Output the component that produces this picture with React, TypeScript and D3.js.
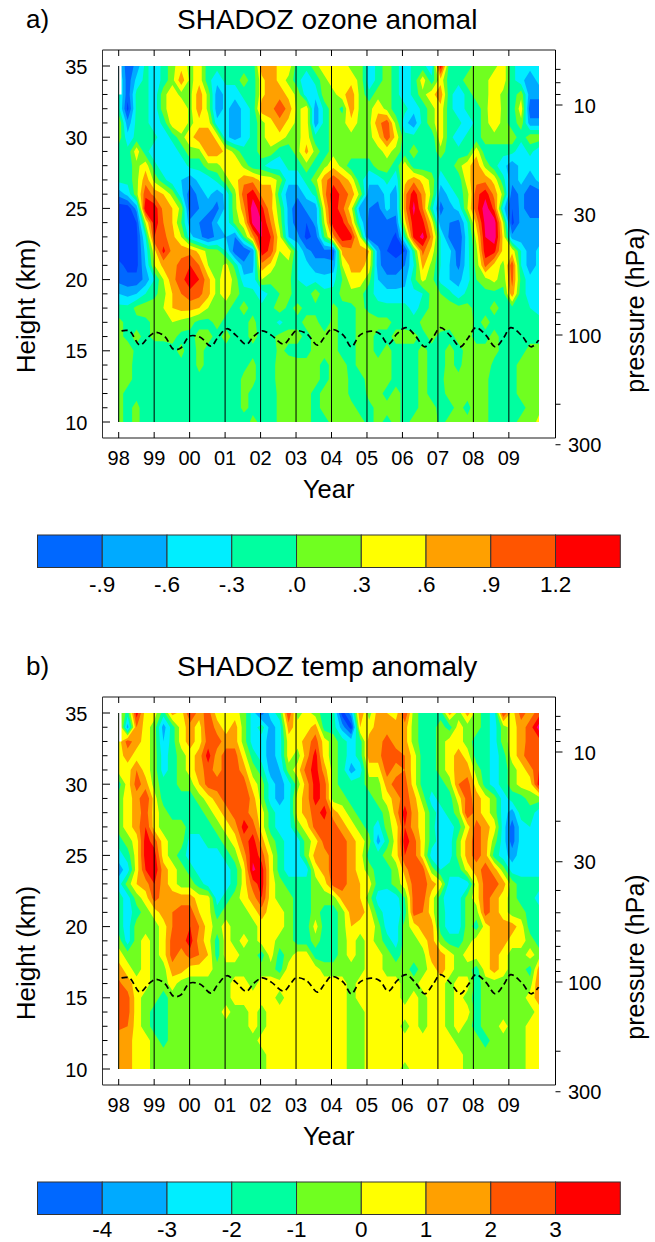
/** App.tsx - SHADOZ ozone and temperature anomaly height/time sections */
import React from "react";
import * as d3 from "d3";

// grid: rows run from 35 km down to 10 km, 48 columns over 1998.0 - 2009.85
const heights = d3.range(35, 9, -1);
const gridYears = d3.range(48).map((i) => 1998 + (i * 11.85) / 47);

// ozone anomaly, in 0.1 units
const ozoneRows = [
  [-5,-11,-8,-2,-5,-2,2,5,2,5,-2,-2,-2,-2,-2,-2,8,8,5,5,-2,-2,2,5,5,5,2,2,-5,-2,2,-2,-5,-2,-2,-5,14,-2,-2,-2,2,2,2,5,-2,-5,-5,-5],
  [-2,-11,-5,-2,-5,-2,2,8,2,5,-2,-5,-2,-2,2,-2,5,8,5,2,-2,-5,-2,2,5,5,5,2,-5,-2,2,-2,-5,-2,5,-2,5,-2,-2,2,2,2,5,5,-2,-5,-8,-5],
  [-2,-11,-2,-2,-5,2,5,2,2,8,2,-8,-5,-5,-2,-2,5,8,8,5,2,-5,-5,2,2,5,8,2,-2,2,2,-2,-5,-2,2,5,8,-2,-5,-2,2,2,5,2,-2,2,-8,-8],
  [-2,-13,-2,-2,-5,2,5,6,2,8,2,-8,-5,-8,-5,-2,8,8,11,8,2,5,-8,-2,2,-1,8,2,2,5,2,-2,-2,-5,-2,2,5,-2,-5,-2,-2,2,6,2,-2,5,-11,-11],
  [3,-8,-2,-2,-5,-2,5,6,2,5,5,-5,-5,-8,-5,-2,2,5,8,5,2,5,-8,-2,2,2,5,2,2,8,11,2,-5,-8,-2,2,5,-2,-2,-5,-2,2,5,2,-2,2,-8,-8],
  [2,-5,-2,-2,-2,-5,-2,2,5,8,8,5,-5,-8,-5,-2,2,5,5,2,2,5,-2,-2,2,2,2,2,2,5,11,5,-2,-2,-2,-2,5,-2,-5,-2,-2,2,2,2,2,-2,2,2],
  [-2,-2,5,-2,-5,-5,-5,-2,2,2,8,8,5,2,-2,-2,2,2,-2,-2,2,7,2,-2,2,2,2,2,2,2,4,2,-2,2,-2,-2,2,-2,-2,-2,5,-2,-2,-2,-2,-5,-2,-5],
  [-2,-2,2,5,-2,-5,-5,-5,-2,-2,2,2,5,6,2,-2,-2,-5,-5,-2,-2,2,-2,2,5,2,-2,-2,-2,2,2,-2,5,-2,-2,-2,-2,-2,2,5,8,2,-2,-5,-8,-5,-5,-5],
  [-2,-2,2,8,2,-2,-5,-6,-8,-5,-5,-2,2,5,8,8,5,5,2,-5,-5,-2,2,8,11,8,5,-2,-5,-5,-2,-5,5,8,5,2,-5,-2,-2,5,8,8,5,-2,-8,-5,-8,-5],
  [-8,-5,2,11,8,6,2,-5,-11,-8,-5,-8,-5,2,11,14,8,8,-2,-8,-8,-5,-2,8,14,11,8,2,-8,-8,-5,-8,8,14,8,2,-8,-5,-2,2,11,14,8,2,-11,-8,-11,-11],
  [-14,-14,-8,15,14,8,6,2,-12,-9,-8,-10,-5,2,8,17,13,7,1,-7,-12,-8,-8,5,14,10,4,-8,-9,-10,-5,-8,8,16,9,-2,-10,-7,-5,3,11,17,11,-5,-12,-8,-11,-11],
  [-14,-14,-12,3,14,9,6,0,-8,-9,-11,-6,-5,1,5,16,15,9,2,-7,-11,-12,-8,3,14,13,7,-4,-10,-10,-10,-10,5,14,13,5,-8,-9,-10,-3,7,16,17,3,-13,-8,-8,-8],
  [-14,-14,-13,-3,12,10,7,3,-5,-8,-11,-8,-6,-9,0,8,15,12,4,-6,-8,-13,-11,0,8,14,13,3,-12,-11,-10,-13,-2,13,16,8,-3,-10,-12,-4,4,15,17,5,-8,-8,-8,-8],
  [-14,-14,-13,-5,5,13,8,8,8,5,2,1,-3,-11,-12,-8,14,11,3,5,-3,-8,-10,-10,-11,7,8,8,6,-8,-12,-13,-12,-1,10,5,-3,-5,-11,-4,2,14,13,5,5,-3,-8,-5],
  [-11,-13,-13,-6,3,7,8,10,12,9,3,1,4,-1,-8,-7,8,5,1,2,-3,-5,-8,-8,-8,3,7,7,5,-8,-11,-11,-9,-3,7,2,-3,-6,-10,-4,1,10,5,2,11,-3,-8,-5],
  [-10,-11,-11,-8,-3,3,8,11,14,12,7,2,5,2,-5,-5,3,1,0,1,-3,-4,-4,-5,-4,0,5,5,1,-6,-8,-8,-7,-1,4,1,-4,-6,-7,-4,0,2,4,1,10,-1,-5,-5],
  [-6,-7,-6,-3,-1,2,6,9,11,10,7,2,5,1,-1,-2,-5,-2,0,1,-2,-2,2,-2,-2,1,2,1,-2,-4,-5,-5,-5,-4,-3,1,0,-2,-5,-2,-2,-1,-1,-1,8,-2,-4,-5],
  [-2,-2,1,2,2,3,6,7,7,6,3,1,1,-1,1,-1,-2,-1,2,-1,1,-1,-1,-3,1,-1,-1,1,-1,-2,-2,-2,-2,-4,-2,1,2,2,1,1,-1,-1,1,-1,-1,-2,-3,-4],
  [1,-1,-1,-1,1,1,3,2,1,-1,-1,1,-1,-1,-1,1,-2,-1,-4,-1,-1,1,1,-2,1,-1,-1,1,2,1,1,-1,-1,-2,1,2,2,1,1,2,-1,1,-1,-1,-1,-1,-1,-2],
  [1,-1,1,-1,1,1,1,-1,-1,1,1,-1,1,-1,-1,1,-1,-1,1,1,1,-1,1,1,1,-1,-1,1,1,-1,-1,1,1,1,-1,1,-1,-1,1,1,-1,-1,1,-1,-1,-1,-1,-1],
  [1,2,-1,-2,-2,-2,-1,1,-2,1,-1,-1,-1,-1,-2,-1,-1,-2,1,-1,-1,-1,1,1,1,-1,-1,1,1,-1,1,-1,-1,-1,1,-1,-1,1,-1,1,1,1,1,-1,-1,-1,1,1],
  [1,1,-1,-2,-2,-2,-2,-1,-2,1,-1,-2,-2,-2,-1,1,-2,-1,1,2,1,1,1,-1,1,1,-1,1,1,1,1,-1,-1,-1,1,-1,-1,1,-1,2,1,2,-1,-1,-1,1,1,1],
  [1,1,-1,-2,-2,-2,-2,-2,-2,-1,-1,-2,-2,-2,1,1,-2,-1,1,2,2,1,1,-1,1,2,-1,-1,1,1,1,-1,-1,-1,1,-1,-1,2,1,2,2,1,-2,-1,-1,1,1,1],
  [1,-1,-1,-2,-2,-2,-2,-2,-2,-1,-2,-2,-2,-2,1,-1,-2,-2,1,2,2,1,-1,1,1,2,-1,-2,1,1,-1,1,-1,-1,1,-1,-1,1,2,1,2,1,-2,-1,-1,1,2,2],
  [1,-1,1,-2,-2,-2,-2,-2,-2,-2,-1,-2,-2,-2,1,-1,-1,-2,1,2,2,1,-1,1,2,2,1,-1,-1,1,1,1,-1,-1,1,1,-1,-1,1,-1,2,1,-2,-2,-1,-1,1,2],
  [1,-1,1,-2,-2,-1,-2,-2,-2,-2,-2,-2,-2,-1,-2,1,-1,-2,1,2,1,1,-1,-1,1,2,2,1,-1,1,-1,1,-1,1,1,2,-1,1,1,1,1,1,-2,-1,-1,1,1,4],
];

// temperature anomaly, in 0.1 K
const tempRows = [
  [5,-15,35,5,5,-15,15,5,30,15,25,5,5,5,-5,-25,-45,-25,-15,30,-5,5,-5,-15,-15,-55,-35,20,-5,15,10,5,30,-5,-15,-15,-15,15,-5,15,-5,-15,-25,30,5,25,15,25],
  [15,-35,20,5,-5,-35,-15,5,15,5,30,15,5,15,-5,-25,-15,-35,-25,15,5,5,15,-15,-15,-35,-55,10,5,15,15,15,15,-5,-15,-15,-5,-15,5,-5,-5,-15,-25,-5,5,15,25,45],
  [5,25,15,5,-5,-30,-15,5,15,5,25,25,15,15,-5,-25,-25,-35,-25,5,5,15,25,5,-5,-15,-25,-15,15,15,25,15,15,-5,-15,-15,-5,5,5,-5,-15,-15,-25,-5,5,15,25,25],
  [5,15,5,5,-5,-25,-15,-5,5,15,35,15,25,25,5,-15,-25,-35,-25,5,-5,15,35,5,-5,-15,-25,-15,15,15,30,25,20,5,-15,-15,-5,5,15,5,-15,-15,-25,-15,5,15,30,25],
  [5,5,20,5,-5,-25,-15,-5,5,15,25,15,25,25,15,-5,-15,-35,-30,-5,5,25,35,15,-5,-15,-35,-25,5,5,25,15,20,5,-15,-15,-5,5,15,15,-5,-15,-25,-15,-5,5,15,30],
  [-15,5,25,15,-5,-15,-15,-5,-5,10,25,25,25,25,25,5,-5,-25,-35,-25,-5,15,35,25,-5,-15,-15,-15,-5,-5,15,25,25,5,-15,-15,-15,-5,20,25,5,-15,-25,-15,-5,5,5,35],
  [-5,5,15,30,5,-15,-15,-15,-15,-5,5,15,25,25,30,15,-5,-25,-35,-25,5,15,35,25,-5,-5,-15,-15,-15,-5,5,15,25,15,-5,-25,-15,-15,5,25,15,5,-5,-25,-15,-15,-5,-5],
  [-5,5,15,25,5,-5,-15,-15,-15,-15,-5,5,15,25,25,15,5,-15,-25,-25,5,15,25,35,15,5,-5,-15,-15,-15,-5,15,35,15,5,-15,-25,-15,-5,30,15,5,-5,-25,-35,-15,-15,-25],
  [-5,5,15,30,5,-5,-5,-5,-15,-15,-15,-5,5,15,35,25,5,-15,-25,-25,-5,5,25,25,25,15,5,-5,-15,-25,-5,5,30,15,5,-15,-30,-25,-15,5,25,15,5,-25,-45,-25,-20,-25],
  [-15,-5,5,35,25,5,-5,-5,-25,-25,-15,-15,-5,5,25,35,15,-5,-15,-25,-25,-5,5,25,25,25,15,5,-5,-35,-15,5,35,25,5,-15,-25,-25,-5,15,25,15,-5,-25,-45,-25,-25,-25],
  [-25,-15,5,35,35,5,-5,-15,-25,-25,-25,-25,-15,-5,15,38,25,5,-15,-25,-25,-5,15,15,25,25,15,5,-15,-15,-5,5,30,25,5,-25,-25,-25,-5,15,25,15,-15,-25,-35,-25,-25,-25],
  [-35,-25,5,30,38,15,5,-5,-15,-25,-25,-25,-25,-15,5,42,35,5,-15,-25,-25,-25,5,15,25,25,15,5,-5,-15,-15,-5,15,30,25,-5,-20,-15,-15,5,15,25,15,-5,-25,-25,-25,-25],
  [-25,-5,10,15,30,15,5,-5,-5,-15,-25,-25,-25,-15,5,25,35,5,-5,-15,-15,-15,-5,5,25,25,15,10,5,-15,-15,-5,5,25,25,15,5,-25,-25,-25,5,25,25,15,-5,-15,-15,-15],
  [-15,-25,-5,5,25,15,15,15,15,5,5,-25,-15,-5,5,15,30,5,-5,-5,-15,-15,-5,-5,-5,15,15,10,-5,-25,-30,-25,-10,25,25,5,-15,-30,-25,-5,5,25,15,5,-5,-15,-15,-25],
  [-15,-25,-15,-5,5,15,20,25,25,10,5,-15,-5,-5,-5,5,15,5,5,-5,-15,-15,-5,-15,-15,-5,15,15,5,-15,-25,-25,-15,25,20,5,-15,-25,-25,-5,-5,25,15,5,-5,-5,-15,-15],
  [-15,-25,-5,-5,-5,5,20,25,30,20,5,-5,5,-5,-5,-5,5,5,5,-5,-15,-15,5,-15,-15,-5,10,5,10,-5,-25,-25,-5,5,15,15,-15,-25,-25,-5,-15,5,15,15,15,5,-15,-15],
  [-5,-25,-5,5,-5,5,25,25,35,15,5,-15,5,-5,5,-5,5,5,-5,-5,-15,-15,-5,-15,-15,-5,5,-5,5,-5,-15,-25,-5,-5,5,15,-5,-15,-15,-5,5,5,15,15,5,5,-5,-15],
  [5,-5,-5,5,-5,5,25,15,25,20,10,-15,5,5,-5,-5,-15,5,-15,-5,5,5,-15,-15,-15,-5,5,-5,5,5,-5,-15,-5,-5,-5,15,15,5,-5,5,5,5,15,5,-5,-5,5,-5],
  [15,5,-5,5,-5,-5,15,15,5,5,5,-5,-5,-5,-5,-5,-5,-5,-15,5,5,5,5,-5,-5,-5,-5,-5,5,5,-5,-5,-5,-15,-5,5,15,5,-5,-5,-15,5,15,5,-5,-5,-15,15],
  [22,15,5,5,-5,-5,5,-5,-5,-5,-5,-5,-5,5,5,-5,5,5,5,5,5,5,5,5,5,5,-5,5,5,5,5,5,-5,-5,5,5,5,-5,5,5,-15,-5,-5,-5,-5,-5,-5,20],
  [25,24,5,-5,-5,-15,-5,-5,-5,-5,-5,-5,-5,5,5,5,5,5,-5,5,5,5,5,5,5,5,-5,5,5,5,5,5,-5,5,-5,5,5,-5,5,-5,-15,-5,-5,-5,-5,-5,5,15],
  [25,24,5,-5,-15,-15,-5,-5,-5,-5,-5,-5,5,-5,-5,5,-5,5,5,5,5,5,5,5,5,5,-5,-5,5,5,5,5,5,5,-5,5,5,-5,5,5,-15,-5,-5,-5,-5,-5,-5,5],
  [22,20,5,-5,-15,-15,-5,-5,-5,-5,-5,-5,-5,-5,-5,5,-5,5,5,5,5,5,5,5,5,5,-5,-5,5,5,5,5,-5,5,-5,5,5,-5,5,-5,-15,-5,-5,5,-5,-5,5,5],
  [15,15,5,5,-5,-15,-5,-5,-5,-5,-5,-5,-5,-5,-5,-5,5,5,5,5,5,5,5,5,5,5,-5,-5,5,5,5,5,5,5,5,5,5,5,-5,-5,-5,-15,-5,-5,-5,-5,5,5],
  [15,15,5,5,-5,-5,-5,-5,-5,-5,-5,-5,-5,-5,-5,-5,-5,5,5,5,5,5,5,5,5,5,-5,-5,5,5,5,5,5,5,5,5,5,5,5,-5,-5,-5,-5,-5,-5,-5,5,5],
  [15,15,5,5,-5,-5,-5,-5,-5,-5,-5,-5,-5,-5,-5,-5,-5,5,5,5,5,5,5,5,5,5,-5,-5,5,5,5,5,-5,5,5,5,5,5,5,-5,-5,-5,-5,-5,-5,-5,5,5],
];

// tropopause height (dashed line), km
const tropYears = [1998.08,1998.3,1998.6,1998.85,1999.05,1999.3,1999.55,1999.75,2000,2000.3,2000.6,2000.8,2001.05,2001.3,2001.6,2001.8,2002.05,2002.3,2002.65,2002.85,2003,2003.3,2003.6,2003.8,2004,2004.33,2004.56,2004.8,2005.13,2005.36,2005.6,2005.85,2006.1,2006.35,2006.63,2006.85,2007.07,2007.35,2007.63,2007.85,2008.07,2008.35,2008.62,2008.85,2009.05,2009.35,2009.63,2009.84];
const tropHeights = [16.4,16.4,15.4,16,16.3,16,15.1,15.2,16.03,15.95,15.33,15.95,16.55,16.1,15.45,16,16.4,16.1,15.47,16,16.4,16.2,15.4,15.95,16.5,16.1,15.28,16.1,16.38,16.2,15.47,16.2,16.63,16.1,15.28,15.9,16.63,16.05,15.28,15.9,16.63,16.1,15.28,15.9,16.63,16.1,15.28,15.75];

const yearTicks = d3.range(1998, 2010);
const heightLabels = [35, 30, 25, 20, 15, 10];
const pressureTicks = [7, 8, 9, 10, 20, 30, 40, 50, 60, 70, 80, 90, 100, 200, 300];
const pressureLabels = [10, 30, 100, 300];

const fillColors = ["#0040ff", "#0068ff", "#00aaff", "#00eeff", "#00ffa0", "#70ff20", "#ffff00", "#ffa000", "#ff5500", "#ff0000", "#ff0080"];
const ozoneLevels = [-12, -9, -6, -3, 0, 3, 6, 9, 12, 15];
const tempLevels = [-50, -40, -30, -20, -10, 0, 10, 20, 30, 40];
const ozoneBarLabels = ["-.9", "-.6", "-.3", ".0", ".3", ".6", ".9", "1.2"];
const tempBarLabels = ["-4", "-3", "-2", "-1", "0", "1", "2", "3"];

const font = "'Liberation Sans', Arial, sans-serif";

const xScale = d3.scaleLinear().domain([1998, 2009.85]).range([118.7, 539]);
const yScale = d3.scaleLinear().domain([35, 10]).range([66, 422]);
const pScale = d3.scaleLog().domain([10, 100]).range([105, 335]);
const barScale = d3.scaleLinear().domain([0, 9]).range([37.5, 620.3]);
const colIndex = d3.scaleLinear().domain([0, 47]).range([gridYears[0], gridYears[47]]);
const rowIndex = d3.scaleLinear().domain([0, 25]).range([heights[0], heights[25]]);

const Panel = ({ id, tag, title, rows, levels, barLabels, barLabelY, offset }: any) => {
  const values: number[] = [];
  heights.forEach((_, j) => gridYears.forEach((_, i) => values.push(rows[j][i])));
  const bands = d3.contours().size([gridYears.length, heights.length]).thresholds(levels)(values);
  // contour coordinates have grid points at i + 0.5
  const toPlot = d3.geoTransform({
    point(x: number, y: number) {
      (this as any).stream.point(xScale(colIndex(x - 0.5)), yScale(rowIndex(y - 0.5)));
    },
  });
  const path = d3.geoPath(toPlot);
  const trop = d3.line<number>()
    .x((d) => xScale(d))
    .y((_, i) => yScale(tropHeights[i]))
    .curve(d3.curveCatmullRom)(tropYears);
  const [x0, x1] = xScale.range();
  const [y0, y1] = yScale.range();

  return (
    <g transform={`translate(0,${offset})`} fontFamily={font} fill="#000">
      <clipPath id={id}>
        <rect x={x0} y={y0} width={x1 - x0} height={y1 - y0} />
      </clipPath>
      <g clipPath={`url(#${id})`}>
        <rect x={x0} y={y0} width={x1 - x0} height={y1 - y0} fill={fillColors[0]} />
        {bands.map((b, i) => (
          <path key={i} d={path(b as any) || ""} fill={fillColors[i + 1]} />
        ))}
      </g>
      {/* missing data at the start of the record */}
      <rect x={xScale(1998)} y={yScale(35)} width={xScale(1998.08) - xScale(1998)} height={yScale(33) - yScale(35)} fill="#fff" />

      {yearTicks.map((y) => (
        <line key={y} x1={xScale(y)} x2={xScale(y)} y1={y1} y2={y0} stroke="#000" strokeWidth={1} />
      ))}
      <path d={trop || ""} fill="none" stroke="#000" strokeWidth={1.7} strokeDasharray="6 3.5" />

      {/* frame */}
      <line x1={102.5} x2={555.5} y1={50} y2={50} stroke="#666" strokeWidth={1.3} />
      <line x1={102.5} x2={555.5} y1={438} y2={438} stroke="#666" strokeWidth={1.3} />
      <line x1={102.5} x2={102.5} y1={50} y2={438} stroke="#333" strokeWidth={1} />
      <line x1={555.5} x2={555.5} y1={50} y2={438} stroke="#000" strokeWidth={1} />

      {yearTicks.map((y) => (
        <g key={y}>
          <line x1={xScale(y)} x2={xScale(y)} y1={50} y2={56} stroke="#000" />
          <line x1={xScale(y)} x2={xScale(y)} y1={438} y2={432} stroke="#000" />
          <text x={xScale(y)} y={465} textAnchor="middle" fontSize={20}>
            {String(y % 100).padStart(2, "0")}
          </text>
        </g>
      ))}
      {heights.map((h) => (
        <line key={h} x1={102.5} x2={h % 5 === 0 ? 110 : 107.5} y1={yScale(h)} y2={yScale(h)} stroke="#000" />
      ))}
      {heightLabels.map((h) => (
        <text key={h} x={87.5} y={yScale(h) + 7.5} textAnchor="end" fontSize={20}>{h}</text>
      ))}
      {pressureTicks.map((p) => (
        <line key={p} x1={555.5} x2={pressureLabels.includes(p) && p !== 300 ? 562.5 : 560.5} y1={pScale(p)} y2={pScale(p)} stroke="#000" />
      ))}
      {pressureLabels.map((p) => (
        <text key={p} x={584.7} y={pScale(p) + 7.5} textAnchor="middle" fontSize={20}>{p}</text>
      ))}

      <text x={26} y={28} fontSize={26}>{tag}</text>
      <text x={177} y={28.5} fontSize={28}>{title}</text>
      <text x={328.7} y={498} textAnchor="middle" fontSize={25.5}>Year</text>
      <text transform="translate(35,306) rotate(-90)" textAnchor="middle" fontSize={26}>Height (km)</text>
      <text transform="translate(644,310) rotate(-90)" textAnchor="middle" fontSize={25}>pressure (hPa)</text>

      {/* colour bar */}
      {fillColors.slice(1, 10).map((c, i) => (
        <rect key={c} x={barScale(i)} y={535} width={barScale(i + 1) - barScale(i)} height={32.5} fill={c} stroke="#333" strokeWidth={1} />
      ))}
      {barLabels.map((t: string, i: number) => (
        <text key={t} x={barScale(i + 1)} y={barLabelY} textAnchor="middle" fontSize={22.5}>{t}</text>
      ))}
    </g>
  );
};

const App = () => (
  <svg width={655} height={1242} style={{ position: "absolute", left: 0, top: 0, background: "#fff" }}>
    <Panel id="clipA" tag="a)" title="SHADOZ ozone anomal" rows={ozoneRows} levels={ozoneLevels} barLabels={ozoneBarLabels} barLabelY={592} offset={0} />
    <Panel id="clipB" tag="b)" title="SHADOZ temp anomaly" rows={tempRows} levels={tempLevels} barLabels={tempBarLabels} barLabelY={590.2} offset={647} />
  </svg>
);

export default App;
